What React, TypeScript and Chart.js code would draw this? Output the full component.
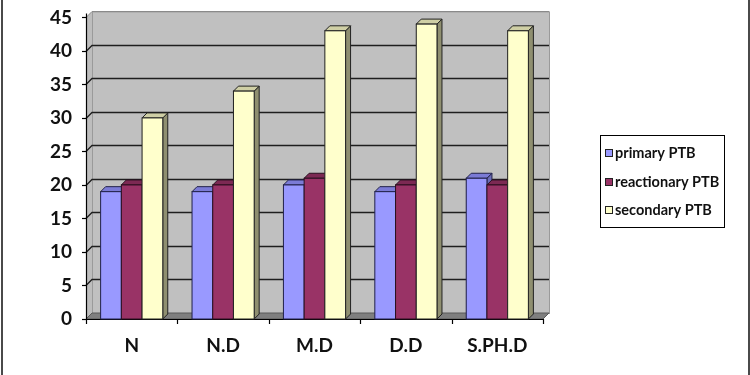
import React, { useEffect, useRef } from 'react';
import { Chart, registerables } from 'chart.js';
Chart.register(...registerables);

const categories = ['N', 'N.D', 'M.D', 'D.D', 'S.PH.D'];
const seriesNames = ['primary PTB', 'reactionary PTB', 'secondary PTB'];
const primary = [19, 19, 20, 19, 21];
const reactionary = [20, 20, 21, 20, 20];
const secondary = [30, 34, 43, 44, 43];
const yMin = 0;
const yMax = 45;
const yStep = 5;

const FRONT = ['#9999FF', '#993366', '#FFFFCC'];
const SIDE = ['#6b6bb8', '#6a2347', '#8f8f70'];
const TOP = ['#7b7bd6', '#7c2953', '#cfcfa5'];
const EDGE = ['#22224a', '#2a1020', '#222222'];
const D = 6; // wall depth
const DB = 5; // bar depth

function poly(ctx: CanvasRenderingContext2D, pts: number[][]) {
  ctx.beginPath();
  ctx.moveTo(pts[0][0], pts[0][1]);
  for (let i = 1; i < pts.length; i++) ctx.lineTo(pts[i][0], pts[i][1]);
  ctx.closePath();
}

const threeD = {
  id: 'threeD',
  beforeDatasetsDraw(chart: any) {
    const { ctx, chartArea } = chart;
    const { left, right, top, bottom } = chartArea;
    const ys = chart.scales.y;
    ctx.save();
    // left side wall
    ctx.fillStyle = '#bdbdbd';
    poly(ctx, [[left, bottom], [left, top], [left + D, top - D], [left + D, bottom - D]]);
    ctx.fill();
    // back wall
    ctx.fillStyle = '#c0c0c0';
    ctx.fillRect(left + D, top - D, right - left, bottom - top);
    ctx.strokeStyle = '#9a9a9a';
    ctx.lineWidth = 1;
    ctx.strokeRect(left + D + 0.5, top - D + 0.5, right - left, bottom - top);
    // gridlines
    ys.ticks.forEach((t: any) => {
      if (t.value === yMin) return;
      const py = Math.round(ys.getPixelForValue(t.value)) + 0.5;
      ctx.strokeStyle = t.value === yMax ? '#8a8a8a' : '#1e1e1e';
      ctx.lineWidth = t.value === yMax ? 1 : 1.3;
      ctx.beginPath();
      ctx.moveTo(left, py);
      ctx.lineTo(left + D, py - D);
      ctx.lineTo(right + D, py - D);
      ctx.stroke();
    });
    // floor
    ctx.fillStyle = '#7f7f7f';
    poly(ctx, [[left, bottom], [right, bottom], [right + D, bottom - D], [left + D, bottom - D]]);
    ctx.fill();
    ctx.strokeStyle = '#5a5a5a';
    ctx.lineWidth = 1;
    ctx.stroke();
    // axes
    ctx.strokeStyle = '#000';
    ctx.lineWidth = 1.2;
    ctx.beginPath();
    ctx.moveTo(left + 0.5, top - 4);
    ctx.lineTo(left + 0.5, bottom + 0.5);
    ctx.lineTo(right, bottom + 0.5);
    ctx.stroke();
    // y tick marks
    ys.ticks.forEach((t: any) => {
      const py = Math.round(ys.getPixelForValue(t.value)) + 0.5;
      ctx.beginPath();
      ctx.moveTo(left - 4, py);
      ctx.lineTo(left, py);
      ctx.stroke();
    });
    // x tick marks at category boundaries
    const n = categories.length;
    for (let i = 0; i <= n; i++) {
      const px = Math.round(left + ((right - left) * i) / n) + 0.5;
      ctx.beginPath();
      ctx.moveTo(px, bottom);
      ctx.lineTo(px, bottom + 5);
      ctx.stroke();
    }
    ctx.restore();
  },
  afterDatasetsDraw(chart: any) {
    const { ctx } = chart;
    ctx.save();
    ctx.lineWidth = 1;
    for (let i = 0; i < categories.length; i++) {
      for (let j = 0; j < chart.data.datasets.length; j++) {
        const el = chart.getDatasetMeta(j).data[i];
        const p = el.getProps(['x', 'y', 'base', 'width'], true);
        const l = p.x - p.width / 2;
        const r = p.x + p.width / 2;
        const ty = p.y;
        const base = p.base;
        ctx.strokeStyle = EDGE[j];
        ctx.fillStyle = SIDE[j];
        poly(ctx, [[r, ty], [r + DB, ty - DB], [r + DB, base - DB], [r, base]]);
        ctx.fill();
        ctx.stroke();
        ctx.fillStyle = TOP[j];
        poly(ctx, [[l, ty], [l + DB, ty - DB], [r + DB, ty - DB], [r, ty]]);
        ctx.fill();
        ctx.stroke();
        ctx.fillStyle = FRONT[j];
        ctx.fillRect(l, ty, p.width, base - ty);
        ctx.strokeRect(l, ty, p.width, base - ty);
      }
    }
    ctx.restore();
  },
  afterDraw(chart: any) {
    const { ctx } = chart;
    ctx.save();
    // frame lines of the picture
    ctx.fillStyle = '#4a4a4a';
    ctx.fillRect(1, 0, 2, 375);
    ctx.fillRect(748, 0, 2, 375);
    // legend
    ctx.strokeStyle = '#000';
    ctx.lineWidth = 1;
    ctx.strokeRect(600.5, 135.5, 124, 92);
    const rowsY = [153, 182, 210];
    ctx.font = 'bold 14.5px Lato';
    ctx.textBaseline = 'middle';
    ctx.textAlign = 'left';
    chart.data.datasets.forEach((ds: any, j: number) => {
      const cy = rowsY[j];
      ctx.fillStyle = FRONT[j];
      ctx.fillRect(605, cy - 4, 8, 8);
      ctx.strokeStyle = '#222';
      ctx.strokeRect(605.5, cy - 3.5, 7, 7);
      ctx.fillStyle = '#111';
      ctx.fillText(ds.label, 615, cy);
    });
    ctx.restore();
  },
};

export default function App() {
  const ref = useRef<HTMLCanvasElement>(null);
  useEffect(() => {
    if (!ref.current) return;
    const chart = new Chart(ref.current, {
      type: 'bar',
      data: {
        labels: categories,
        datasets: [primary, reactionary, secondary].map((vals, j) => ({
          label: seriesNames[j],
          data: vals,
          backgroundColor: FRONT[j],
          borderColor: EDGE[j],
          borderWidth: 1,
          categoryPercentage: 0.68,
          barPercentage: 1,
        })),
      },
      options: {
        animation: false,
        responsive: true,
        maintainAspectRatio: false,
        layout: { padding: { top: 16, right: 207, bottom: 0, left: 0 } },
        plugins: { legend: { display: false }, tooltip: { enabled: false } },
        scales: {
          x: {
            grid: { display: false },
            border: { display: false },
            ticks: { color: '#111', font: { family: 'Lato', weight: 'bold', size: 19 }, padding: 7 },
            afterFit: (s: any) => { s.height = 56; },
          },
          y: {
            min: yMin,
            max: yMax,
            grid: { display: false },
            border: { display: false },
            ticks: { stepSize: yStep, color: '#111', font: { family: 'Lato', weight: 'bold', size: 19 }, padding: 6 },
            afterFit: (s: any) => { s.width = 86; },
          },
        },
      },
      plugins: [threeD],
    });
    return () => chart.destroy();
  }, []);
  return (
    <div style={{ position: 'absolute', left: 0, top: 0, width: 750, height: 375, background: '#fff' }}>
      <canvas ref={ref} />
    </div>
  );
}
